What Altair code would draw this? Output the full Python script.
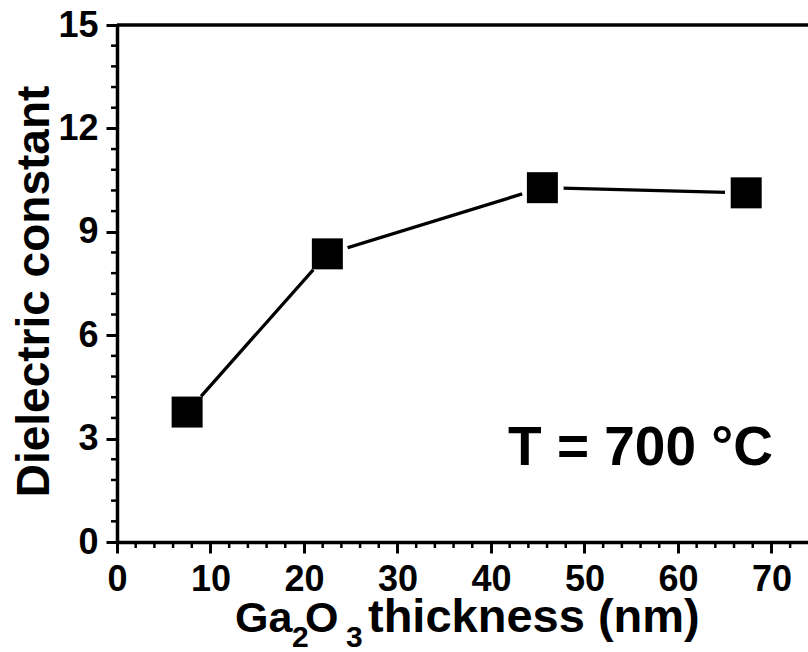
import altair as alt
import pandas as pd

# data
thickness = [7.5, 22.5, 45.5, 67.3]
dielectric = [3.77, 8.36, 10.28, 10.13]

x_major = [0, 10, 20, 30, 40, 50, 60, 70]
x_minor = [v for v in range(0, 74, 2) if v % 10 != 0]
y_major = [0, 3, 6, 9, 12, 15]
y_minor = [round(i * 0.6, 1) for i in range(26) if i % 5 != 0]

W, H = 691, 517
XMAX = 73.91
FONT = "Liberation Sans"

df = pd.DataFrame({"t": thickness, "k": dielectric})

xs = alt.Scale(domain=[0, XMAX], nice=False, zero=False)
ys = alt.Scale(domain=[0, 15], nice=False, zero=False)

xaxis = alt.Axis(
    values=x_major, title=None, grid=False, format="d",
    tickSize=11, tickWidth=3,
    tickColor="black", domainColor="black", domainWidth=3.5,
    labelFont=FONT, labelFontWeight="bold", labelFontSize=36, labelColor="black",
    labelPadding=9, labelFlush=False, labelOverlap=False, labelBound=False,
)
yaxis = alt.Axis(
    values=y_major, grid=False, format="d",
    title="Dielectric constant",
    tickSize=11, tickWidth=3,
    tickColor="black", domainColor="black", domainWidth=3.5,
    labelFont=FONT, labelFontWeight="bold", labelFontSize=36, labelColor="black",
    labelPadding=8, labelFlush=False, labelOverlap=False, labelBound=False,
    titleFont=FONT, titleFontWeight="bold", titleFontSize=46, titleColor="black",
    titleX=-69, titleY=266, titleAngle=270, titleAlign="center", titleBaseline="alphabetic",
)

base = alt.Chart(df)

line = base.mark_line(color="black", strokeWidth=3.3).encode(
    x=alt.X("t:Q", scale=xs, axis=xaxis),
    y=alt.Y("k:Q", scale=ys, axis=yaxis),
)
gap = base.mark_point(shape="circle", filled=True, color="white", opacity=1, size=1810).encode(
    x=alt.X("t:Q", scale=xs), y=alt.Y("k:Q", scale=ys)
)
squares = base.mark_point(shape="square", filled=True, color="black", opacity=1, size=961).encode(
    x=alt.X("t:Q", scale=xs), y=alt.Y("k:Q", scale=ys)
)

xminor = alt.Chart(pd.DataFrame({"v": x_minor})).mark_rule(color="black", strokeWidth=2.5).encode(
    x=alt.X("v:Q", scale=xs), y=alt.value(H), y2=alt.value(H + 6)
)
yminor = alt.Chart(pd.DataFrame({"v": y_minor})).mark_rule(color="black", strokeWidth=2.5).encode(
    y=alt.Y("v:Q", scale=ys), x=alt.value(0), x2=alt.value(-6)
)

top_rule = alt.Chart(pd.DataFrame({"a": [0]})).mark_rule(color="black", strokeWidth=3.5).encode(
    x=alt.value(0), x2=alt.value(W), y=alt.value(0)
)

def txt(s, x, y, size):
    return alt.Chart(pd.DataFrame({"s": [s]})).mark_text(
        font=FONT, fontWeight="bold", fontSize=size, color="black",
        align="left", baseline="alphabetic"
    ).encode(text="s:N", x=alt.value(x), y=alt.value(y))

label_T = txt("T = 700 °C", 391, 440, 55)
t1 = txt("Ga", 118, 606.5, 43)
t2 = txt("2", 175, 622, 30)
t3 = txt("O", 188, 606.5, 43)
t4 = txt("3", 229, 622, 30)
t5 = txt("thickness (nm)", 251, 606.5, 47)

chart = alt.layer(line, gap, squares, xminor, yminor, top_rule,
                  label_T, t1, t2, t3, t4, t5).properties(
    width=W, height=H,
    autosize=alt.AutoSizeParams(type="none"),
    padding={"left": 117, "top": 25, "right": 0, "bottom": 110},
).configure_view(stroke=None).configure(background="white")

chart.save("out.html", embed_options={"renderer": "svg", "actions": False})
